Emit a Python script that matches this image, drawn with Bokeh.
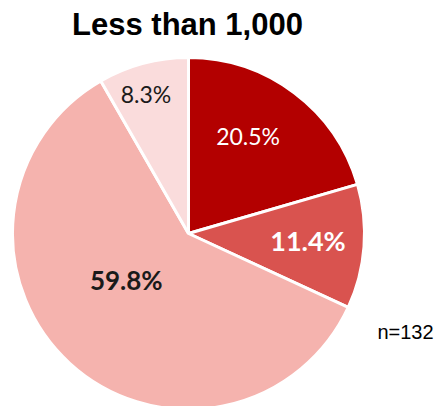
import math
from bokeh.plotting import figure
from bokeh.models import ColumnDataSource
from bokeh.core.properties import value
from bokeh.embed import file_html
from bokeh.resources import INLINE

# ---- data ----
categories = ["A", "B", "C", "D"]
shares = [20.5, 11.4, 59.8, 8.3]
labels = ["20.5%", "11.4%", "59.8%", "8.3%"]
title_text = "Less than 1,000"
note_text = "n=132"

# ---- style ----
colors = ["#B30000", "#D9534F", "#F5B3AE", "#FADCDC"]
label_colors = ["white", "white", "#1a1a1a", "#1a1a1a"]
label_sizes = ["23px", "27px", "26px", "23px"]
label_styles = ["normal", "bold", "bold", "normal"]
label_rfrac = [0.65, 0.68, 0.44, 0.83]
label_dang = [-5.5, -1.0, 11.0, -2.0]  # degrees tweak clockwise

W, H = 437, 406
cx, cy = 188, H - 233
R = 176

total = sum(shares)
starts, ends, lx, ly = [], [], [], []
cum = 0.0
for i, s in enumerate(shares):
    a0 = math.pi / 2 - 2 * math.pi * cum / total
    cum += s
    a1 = math.pi / 2 - 2 * math.pi * cum / total
    starts.append(a1)
    ends.append(a0)
    mid = (a0 + a1) / 2 - math.radians(label_dang[i])
    lx.append(cx + R * label_rfrac[i] * math.cos(mid))
    ly.append(cy + R * label_rfrac[i] * math.sin(mid))

src = ColumnDataSource(dict(cat=categories, start=starts, end=ends, color=colors))
lsrc = ColumnDataSource(dict(x=lx, y=ly, text=labels, color=label_colors,
                             size=label_sizes, style=label_styles))

p = figure(width=W, height=H, x_range=(0, W), y_range=(0, H),
           output_backend="svg", toolbar_location=None, min_border=0)
p.axis.visible = False
p.grid.visible = False
p.outline_line_color = None
p.background_fill_color = "white"

p.wedge(x=cx, y=cy, radius=R, start_angle="start", end_angle="end",
        direction="anticlock", fill_color="color", line_color="white",
        line_width=3, source=src)

p.text(x="x", y="y", text="text", text_color="color", text_font_size="size",
       text_font_style="style", text_font=value("Lato"), text_align="center",
       text_baseline="middle", source=lsrc)

p.text(x=[187], y=[H - 24], text=[title_text], text_font=value("Liberation Sans"),
       text_font_style="bold", text_font_size="31px", text_color="black",
       text_align="center", text_baseline="middle")

p.text(x=[405], y=[H - 331], text=[note_text], text_font=value("Liberation Sans"),
       text_font_size="20px", text_color="black",
       text_align="center", text_baseline="middle")

open("out.html", "w").write(file_html(p, INLINE))
